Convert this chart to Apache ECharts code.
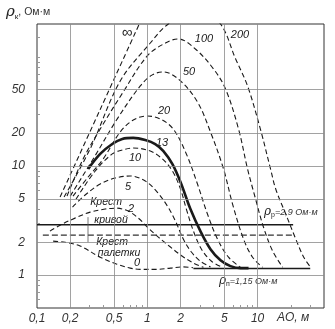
<!DOCTYPE html>
<html><head><meta charset="utf-8">
<script src="https://cdn.jsdelivr.net/npm/echarts@6/dist/echarts.min.js"></script>
<style>html,body{margin:0;padding:0;background:#fff}#c{width:335px;height:329px}</style>
</head><body><div id="c"></div>
<script>
// axis ticks / grid
const xTicks = [0.1, 0.2, 0.5, 1, 2, 5, 10];
const yTicks = [1, 2, 5, 10, 20, 50];
const xGrid = [0.2, 0.5, 1, 2, 5, 10];
const yGrid = [1, 2, 5, 10, 20, 50];
const xMinor = [0.3, 0.4, 0.6, 0.7, 0.8, 0.9, 3, 4, 6, 7, 8, 9, 20, 30];
const yMinor = [0.6, 0.7, 0.8, 0.9, 3, 4, 6, 7, 8, 9, 30, 40, 60, 70, 80, 90, 100, 150];

// palette curves (AO, rho_k)
const curveInf = [[0.162, 5.2], [0.374, 33], [0.846, 200]];
const curve200 = [[0.176, 5.2], [0.303, 14.3], [0.568, 60], [1.065, 134], [1.55, 200], [2.9, 280], [4.61, 200], [6.31, 96], [8.1, 54.3], [10.6, 21.8], [13.1, 9.4], [14.6, 6.15], [18, 3.63], [22.2, 2.14], [26.2, 1.46], [30.3, 1.18]];
const curve100 = [[0.187, 5.3], [0.262, 11.6], [0.374, 21.8], [0.605, 47.7], [1.0, 102], [1.46, 134], [1.91, 146], [2.73, 118], [3.98, 77.6], [5.12, 50.8], [6.72, 21.8], [8.11, 9.4], [9.59, 4.98], [11.3, 2.76], [13.7, 1.66], [16.9, 1.18]];
const curve50 = [[0.2, 5.3], [0.323, 11.6], [0.534, 27], [0.864, 54.2], [1.11, 68.4], [1.4, 72.8], [2.0, 60.2], [2.85, 38.6], [3.74, 20.5], [4.91, 9.4], [5.93, 4.48], [7.46, 2.14], [9.0, 1.46], [11.1, 1.18]];
const curve20 = [[0.212, 5.3], [0.291, 7.93], [0.398, 11.6], [0.568, 20.5], [0.746, 26.4], [1.0, 28.7], [1.31, 27], [1.72, 21.8], [2.26, 12.9], [2.85, 6.84], [3.51, 3.63], [4.33, 2.14], [5.45, 1.46], [7.0, 1.18]];
const curve13 = [[0.291, 9.4], [0.374, 12.9], [0.481, 15.9], [0.593, 17.7], [0.746, 18.1], [0.959, 17.3], [1.18, 15.9], [1.4, 13.7], [1.69, 10.4], [2.0, 7.13], [2.46, 4.03], [3.03, 2.53], [3.74, 1.73], [4.61, 1.37], [5.68, 1.21], [7.0, 1.16], [8.28, 1.16]];
const curve10 = [[0.226, 4.98], [0.337, 9.0], [0.481, 12.9], [0.593, 14.0], [0.746, 14.6], [1.065, 13.7], [1.37, 11.6], [1.69, 9.0], [2.0, 6.15], [2.26, 4.03], [2.62, 2.53], [3.1, 1.73], [3.82, 1.34], [4.81, 1.18]];
const curve5 = [[0.21, 4.2], [0.273, 5.42], [0.374, 6.84], [0.512, 7.76], [0.7, 8.1], [0.959, 7.28], [1.23, 5.77], [1.52, 4.3], [1.8, 3.13], [2.12, 2.14], [2.51, 1.63], [3.03, 1.34], [3.74, 1.19]];
const curve2 = [[0.131, 2.53], [0.162, 2.87], [0.221, 3.33], [0.303, 3.78], [0.415, 4.03], [0.523, 4.11], [0.672, 3.86], [0.829, 3.33], [1.0, 2.76], [1.26, 2.23], [1.62, 1.81], [2.08, 1.49], [2.62, 1.29], [3.23, 1.18]];
const curve0 = [[0.14, 2.05], [0.18, 2.0], [0.246, 1.85], [0.374, 1.46], [0.53, 1.26], [0.7, 1.16], [0.86, 1.13], [1.18, 1.13], [1.62, 1.16], [2.1, 1.19], [2.6, 1.17]];

// horizontal reference lines
const rhoPLine = [[0.1, 2.9], [21, 2.9]];
const rhoNLine = [[2.62, 1.15], [30, 1.15]];
const crossPaletteLine = [[0.113, 2.33], [21, 2.33]];
const crossCurve = [[0.29, 2.9]];
const crossStem = [[0.29, 3.4], [0.29, 2.0]];

const chart = echarts.init(document.getElementById('c'), null, {renderer: 'canvas'});
const ink = '#1a1a1a';
const dashed = (name, data) => ({
  name, type: 'line', data, smooth: 0.35, showSymbol: false, silent: true, clip: true,
  lineStyle: {color: ink, width: 1.1, type: [5, 3]}
});
const solid = (name, data, w) => ({
  name, type: 'line', data, smooth: 0.35, showSymbol: false, silent: true, clip: true,
  lineStyle: {color: ink, width: w}
});
const fmt = v => String(v).replace('.', ',');
const lblFont = {fontFamily: 'Liberation Sans', fontStyle: 'italic', fontSize: 11, fill: '#222'};
const txt = (x, y, t, extra) => ({type: 'text', x, y, style: Object.assign({text: t, textAlign: 'center', textVerticalAlign: 'middle'}, lblFont, extra || {})});

chart.setOption({
  animation: false,
  backgroundColor: '#fff',
  grid: {left: 37, right: 11, top: 24, bottom: 21, show: true, borderColor: '#333', borderWidth: 1},
  xAxis: {
    type: 'log', logBase: 10, min: 0.1, max: 40,
    axisLine: {show: false},
    splitLine: {show: false},
    axisTick: {show: true, inside: true, length: 3, customValues: xMinor, lineStyle: {color: '#999'}},
    axisLabel: {customValues: xTicks, formatter: fmt, fontFamily: 'Liberation Sans', fontStyle: 'italic', fontSize: 12, color: '#333', margin: 5}
  },
  yAxis: {
    type: 'log', logBase: 10, min: 0.5, max: 200,
    axisLine: {show: false},
    splitLine: {show: false},
    axisTick: {show: true, inside: true, length: 3, customValues: yMinor, lineStyle: {color: '#999'}},
    axisLabel: {customValues: yTicks, formatter: fmt, fontFamily: 'Liberation Sans', fontStyle: 'italic', fontSize: 12, color: '#333', margin: 12}
  },
  series: [
    {type: 'line', data: [], silent: true, markLine: {silent: true, symbol: 'none', label: {show: false},
      lineStyle: {color: '#8a8a8a', width: 0.8, type: 'solid'},
      data: xGrid.map(v => ({xAxis: v})).concat(yGrid.map(v => ({yAxis: v})))}},
    dashed('inf', curveInf),
    dashed('200', curve200),
    dashed('100', curve100),
    dashed('50', curve50),
    dashed('20', curve20),
    solid('13', curve13, 2.6),
    dashed('10', curve10),
    dashed('5', curve5),
    dashed('2', curve2),
    dashed('0', curve0),
    solid('rhoP', rhoPLine, 1.5),
    solid('rhoN', rhoNLine, 1.5),
    {type: 'line', data: crossPaletteLine, showSymbol: false, silent: true, lineStyle: {color: '#333', width: 1.2, type: [6, 3]}},
    {type: 'line', data: crossStem, showSymbol: false, silent: true, lineStyle: {color: '#555', width: 0.8}},
    {type: 'scatter', data: crossCurve, symbol: 'emptyCircle', symbolSize: 11, silent: true, itemStyle: {color: '#fff', borderColor: '#444', borderWidth: 1}}
  ],
  graphic: [
    {type: 'text', left: 6, top: 5, style: {rich: {r: {fontFamily: 'DejaVu Serif', fontStyle: 'italic', fontSize: 15, fill: '#222'}, s: {fontFamily: 'Liberation Sans', fontSize: 8, fill: '#222', padding: [9, 0, 0, 0]}, u: {fontFamily: 'Liberation Sans', fontSize: 10.5, fill: '#333'}}, text: '{r|ρ}{s|к}{u|, Ом·м}'}},
    txt(127, 33, '∞', {fontSize: 15}),
    txt(204, 39, '100'),
    txt(240, 35, '200'),
    txt(189, 72, '50'),
    txt(164, 111, '20'),
    txt(162, 143, '13'),
    txt(135, 158, '10'),
    txt(128, 187, '5'),
    txt(131, 209, '2'),
    txt(137, 263, '0'),
    txt(106, 202, 'Крест', {fontSize: 10.5}),
    txt(111, 220, 'кривой', {fontSize: 10.5}),
    txt(112, 242, 'Крест', {fontSize: 10.5}),
    txt(119, 253, 'палетки', {fontSize: 10.5}),
    {type: 'text', x: 264, y: 212, style: {rich: {r: {fontFamily: 'DejaVu Serif', fontStyle: 'italic', fontSize: 12, fill: '#222'}, s: {fontFamily: 'Liberation Sans', fontSize: 7, fill: '#222', padding: [6, 0, 0, 0]}, u: {fontFamily: 'Liberation Sans', fontStyle: 'italic', fontSize: 9, fill: '#333'}}, text: '{r|ρ}{s|p}{u|=2,9 Ом·м}', textVerticalAlign: 'middle'}},
    {type: 'text', x: 219, y: 281, style: {rich: {r: {fontFamily: 'DejaVu Serif', fontStyle: 'italic', fontSize: 12, fill: '#222'}, s: {fontFamily: 'Liberation Sans', fontSize: 7, fill: '#222', padding: [6, 0, 0, 0]}, u: {fontFamily: 'Liberation Sans', fontStyle: 'italic', fontSize: 9, fill: '#333'}}, text: '{r|ρ}{s|п}{u|=1,15 Ом·м}', textVerticalAlign: 'middle'}},
    {type: 'text', x: 277, y: 318, style: {text: 'AO, м', fontFamily: 'Liberation Sans', fontStyle: 'italic', fontSize: 12, fill: '#333', textVerticalAlign: 'middle'}}
  ]
});
</script></body></html>
